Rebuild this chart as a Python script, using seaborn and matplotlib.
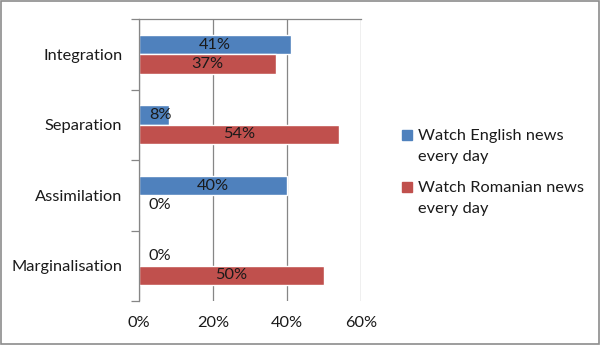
import matplotlib
matplotlib.use("Agg")
import matplotlib.pyplot as plt
import matplotlib.patches as mpatches
from matplotlib.legend_handler import HandlerPatch
import pandas as pd
import seaborn as sns

categories = ["Integration", "Separation", "Assimilation", "Marginalisation"]
series_names = ["Watch English news\nevery day", "Watch Romanian news\nevery day"]
english = [41, 8, 40, 0]
romanian = [37, 54, 0, 50]
x_ticks = [0, 20, 40, 60]
x_tick_labels = ["0%", "20%", "40%", "60%"]

colors = ["#4F81BD", "#C0504D"]
text_color = "#1a1a1a"
grid_color = "#868686"
fs = 11.8

sns.set_theme(style="white")
plt.rcParams["font.family"] = ["Lato", "DejaVu Sans"]

df = pd.DataFrame({
    "category": categories * 2,
    "value": english + romanian,
    "series": [series_names[0]] * len(categories) + [series_names[1]] * len(categories),
})

fig = plt.figure(figsize=(6.0, 3.45), dpi=100)
ax = fig.add_axes([139 / 600, 1 - 301 / 345, 222 / 600, 282 / 345])

sns.barplot(data=df, y="category", x="value", hue="series", order=categories,
            hue_order=series_names, palette=colors, orient="h", width=0.55,
            saturation=1, ax=ax, legend=False)

# value labels centred on each bar, nudged right when the bar is very short
for container in ax.containers:
    for bar in container:
        w = bar.get_width()
        cx = max(w / 2, 5.7)
        cy = bar.get_y() + bar.get_height() / 2
        ax.text(cx, cy, f"{w:.0f}%", ha="center", va="center",
                fontsize=fs, color=text_color)

ax.set_xlim(0, 60)
ax.set_ylim(len(categories) - 0.5, -0.5)
ax.set_xticks(x_ticks)
ax.set_xticklabels(x_tick_labels)
ax.set_yticks([i - 0.5 for i in range(len(categories) + 1)], minor=True)
ax.set_yticks(range(len(categories)))
ax.set_yticklabels(categories)
ax.set_xlabel("")
ax.set_ylabel("")

ax.xaxis.grid(True, color=grid_color, linewidth=0.9)
ax.set_axisbelow(True)
ax.tick_params(axis="x", length=0, pad=11, labelsize=fs, colors=text_color)
ax.tick_params(axis="y", which="major", length=0, pad=12, labelsize=fs, colors=text_color)
ax.tick_params(axis="y", which="minor", length=6, width=0.9, color=grid_color, left=True)

for side in ["right", "bottom"]:
    ax.spines[side].set_visible(False)
for side in ["left", "top"]:
    ax.spines[side].set_color(grid_color)
    ax.spines[side].set_linewidth(0.9)


def top_aligned_square(legend, orig_handle, xdescent, ydescent, width, height, fontsize):
    # keep the swatch level with the first line of a two-line label
    return mpatches.Rectangle((-xdescent, -ydescent + 8), width, height)


handles = [mpatches.Patch(color=c, label=n) for c, n in zip(colors, series_names)]
leg = fig.legend(handles=handles, loc="upper left", bbox_to_anchor=(402 / 600, 1 - 129 / 345),
                 frameon=False, fontsize=fs, handlelength=0.6, handleheight=0.6,
                 handletextpad=0.4, labelspacing=1.0, borderaxespad=0, borderpad=0,
                 handler_map={mpatches.Patch: HandlerPatch(patch_func=top_aligned_square)})
for t in leg.get_texts():
    t.set_color(text_color)
    t.set_linespacing(1.65)

fig.add_artist(mpatches.Rectangle((0.002, 0.003), 0.996, 0.994, transform=fig.transFigure,
                                  fill=False, edgecolor="#8c8c8c", linewidth=1.2))

fig.savefig("out.png", dpi=100, facecolor="white")
